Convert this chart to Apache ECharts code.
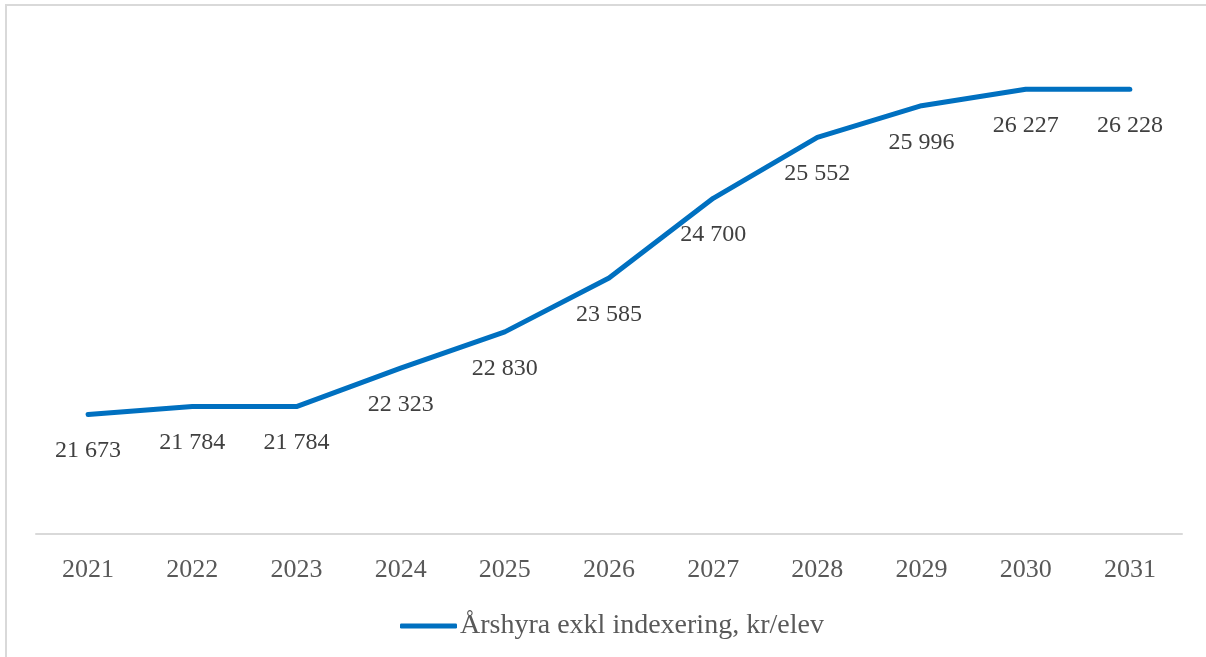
<!DOCTYPE html>
<html>
<head>
<meta charset="utf-8">
<script src="https://cdn.jsdelivr.net/npm/echarts@6/dist/echarts.min.js"></script>
<style>
  html, body { margin: 0; padding: 0; background: #fff; }
  #chart { width: 1206px; height: 657px; }
</style>
</head>
<body>
<div id="chart"></div>
<script>
// years on the x axis
const years = ['2021', '2022', '2023', '2024', '2025', '2026', '2027', '2028', '2029', '2030', '2031']
// annual rent excl. indexation, kr per pupil
const rentPerPupil = [21673, 21784, 21784, 22323, 22830, 23585, 24700, 25552, 25996, 26227, 26228]
const seriesName = 'Årshyra exkl indexering, kr/elev'

const fmt = v => String(v).replace(/\B(?=(\d{3})+(?!\d))/g, ' ')

const myChart = echarts.init(document.getElementById('chart'))
const option = {
  animation: false,
  textStyle: { fontFamily: '"Liberation Serif", "Times New Roman", serif' },
  graphic: [
    {
      type: 'rect',
      shape: { x: 6, y: 5, width: 1400, height: 800 },
      style: { fill: 'none', stroke: '#d9d9d9', lineWidth: 2 }
    }
  ],
  grid: {
    left: 36,
    right: 24,
    top: 34,
    bottom: 123,
    containLabel: false
  },
  legend: {
    show: true,
    top: 607,
    left: 395,
    icon: 'roundRect',
    itemWidth: 57,
    itemHeight: 5,
    itemGap: 10,
    textStyle: { fontSize: 28, color: '#595959', fontFamily: '"Liberation Serif", serif', padding: [0, 0, 0, -2] },
    data: [seriesName]
  },
  xAxis: {
    type: 'category',
    data: years,
    boundaryGap: true,
    axisLine: { lineStyle: { color: '#d9d9d9', width: 2 } },
    axisTick: { show: false },
    axisLabel: { fontSize: 26, color: '#595959', margin: 23, fontFamily: '"Liberation Serif", serif' }
  },
  yAxis: {
    type: 'value',
    min: 20000,
    max: 27000,
    interval: 1000,
    show: false,
    splitLine: { show: false }
  },
  series: [
    {
      name: seriesName,
      type: 'line',
      data: rentPerPupil,
      color: '#0070C0',
      symbol: 'circle',
      symbolSize: 1,
      lineStyle: { width: 5, cap: 'round', join: 'round' },
      label: {
        show: true,
        position: 'bottom',
        distance: 24,
        fontSize: 24,
        color: '#404040',
        fontFamily: '"Liberation Serif", serif',
        formatter: p => fmt(p.value)
      }
    }
  ]
}
myChart.setOption(option)
</script>
</body>
</html>
